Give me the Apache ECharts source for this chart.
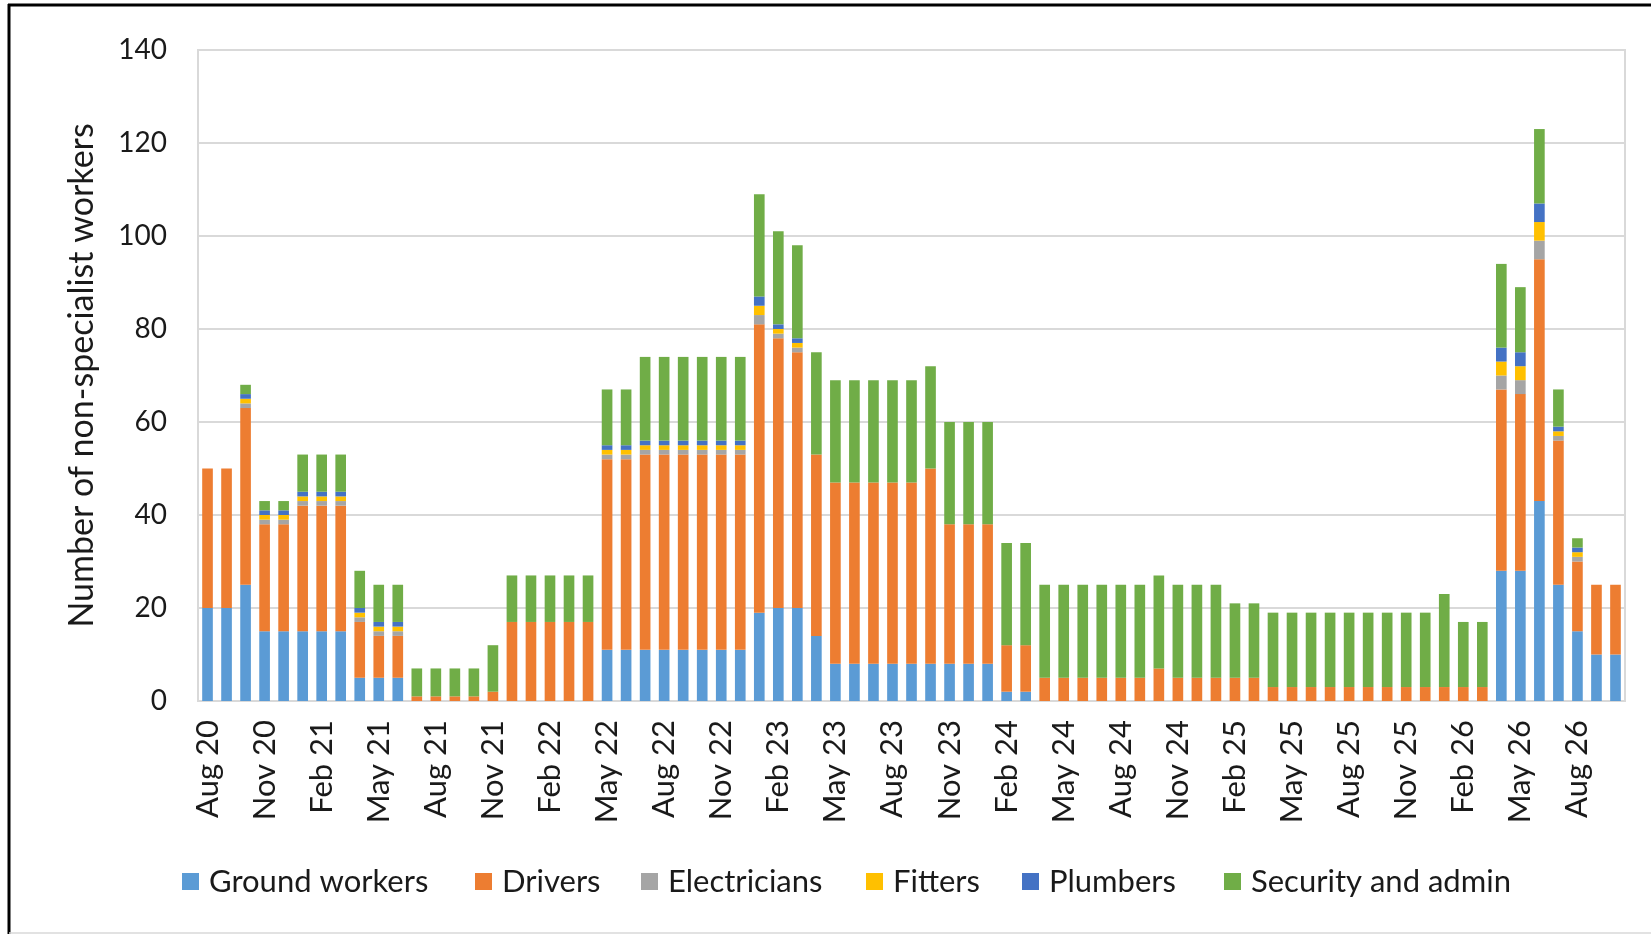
<!DOCTYPE html>
<html>
<head>
<meta charset="utf-8">
<script src="https://cdn.jsdelivr.net/npm/echarts@6/dist/echarts.min.js"></script>
<style>
  html, body { margin: 0; padding: 0; background: #ffffff; }
  #chart { width: 1651px; height: 934px; }
</style>
</head>
<body>
<div id="chart"></div>
<script>
// ---------- DATA ----------
const months = [
  'Aug 20','Sep 20','Oct 20','Nov 20','Dec 20','Jan 21','Feb 21','Mar 21','Apr 21','May 21','Jun 21','Jul 21',
  'Aug 21','Sep 21','Oct 21','Nov 21','Dec 21','Jan 22','Feb 22','Mar 22','Apr 22','May 22','Jun 22','Jul 22',
  'Aug 22','Sep 22','Oct 22','Nov 22','Dec 22','Jan 23','Feb 23','Mar 23','Apr 23','May 23','Jun 23','Jul 23',
  'Aug 23','Sep 23','Oct 23','Nov 23','Dec 23','Jan 24','Feb 24','Mar 24','Apr 24','May 24','Jun 24','Jul 24',
  'Aug 24','Sep 24','Oct 24','Nov 24','Dec 24','Jan 25','Feb 25','Mar 25','Apr 25','May 25','Jun 25','Jul 25',
  'Aug 25','Sep 25','Oct 25','Nov 25','Dec 25','Jan 26','Feb 26','Mar 26','Apr 26','May 26','Jun 26','Jul 26',
  'Aug 26','Sep 26','Oct 26'
];

const groundWorkers = [
  20,20,25,15,15,15,15,15,5,5,5,0,
  0,0,0,0,0,0,0,0,0,11,11,11,
  11,11,11,11,11,19,20,20,14,8,8,8,
  8,8,8,8,8,8,2,2,0,0,0,0,
  0,0,0,0,0,0,0,0,0,0,0,0,
  0,0,0,0,0,0,0,0,28,28,43,25,
  15,10,10
];

const drivers = [
  30,30,38,23,23,27,27,27,12,9,9,1,
  1,1,1,2,17,17,17,17,17,41,41,42,
  42,42,42,42,42,62,58,55,39,39,39,39,
  39,39,42,30,30,30,10,10,5,5,5,5,
  5,5,7,5,5,5,5,5,3,3,3,3,
  3,3,3,3,3,3,3,3,39,38,52,31,
  15,15,15
];

const electricians = [
  0,0,1,1,1,1,1,1,1,1,1,0,
  0,0,0,0,0,0,0,0,0,1,1,1,
  1,1,1,1,1,2,1,1,0,0,0,0,
  0,0,0,0,0,0,0,0,0,0,0,0,
  0,0,0,0,0,0,0,0,0,0,0,0,
  0,0,0,0,0,0,0,0,3,3,4,1,
  1,0,0
];

const fitters = [
  0,0,1,1,1,1,1,1,1,1,1,0,
  0,0,0,0,0,0,0,0,0,1,1,1,
  1,1,1,1,1,2,1,1,0,0,0,0,
  0,0,0,0,0,0,0,0,0,0,0,0,
  0,0,0,0,0,0,0,0,0,0,0,0,
  0,0,0,0,0,0,0,0,3,3,4,1,
  1,0,0
];

const plumbers = [
  0,0,1,1,1,1,1,1,1,1,1,0,
  0,0,0,0,0,0,0,0,0,1,1,1,
  1,1,1,1,1,2,1,1,0,0,0,0,
  0,0,0,0,0,0,0,0,0,0,0,0,
  0,0,0,0,0,0,0,0,0,0,0,0,
  0,0,0,0,0,0,0,0,3,3,4,1,
  1,0,0
];

const securityAdmin = [
  0,0,2,2,2,8,8,8,8,8,8,6,
  6,6,6,10,10,10,10,10,10,12,12,18,
  18,18,18,18,18,22,20,20,22,22,22,22,
  22,22,22,22,22,22,22,22,20,20,20,20,
  20,20,20,20,20,20,16,16,16,16,16,16,
  16,16,16,16,16,20,14,14,18,14,16,8,
  2,0,0
];

const yTicks = { min: 0, max: 140, interval: 20 };
const seriesNames = ['Ground workers','Drivers','Electricians','Fitters','Plumbers','Security and admin'];
const seriesData = [groundWorkers, drivers, electricians, fitters, plumbers, securityAdmin];
const seriesColors = ['#5B9BD5','#ED7D31','#A5A5A5','#FFC000','#4472C4','#70AD47'];

// ---------- CHART ----------
const FONT = 'Lato, "Open Sans", sans-serif';
const TXT = '#1a1a1a';
const chart = echarts.init(document.getElementById('chart'), null, { renderer: 'canvas' });

const legendLefts = [182, 475, 641, 866, 1022, 1224];

const option = {
  animation: false,
  backgroundColor: '#ffffff',
  textStyle: { fontFamily: FONT },
  grid: {
    left: 198, right: 26, top: 50, bottom: 233,
    show: true, borderColor: '#d9d9d9', borderWidth: 2,
    containLabel: false
  },
  legend: seriesNames.map((n, i) => ({
    data: [n],
    left: legendLefts[i],
    top: 866,
    padding: 0,
    itemWidth: 17,
    itemHeight: 17,
    icon: 'rect',
    textStyle: { fontFamily: FONT, fontSize: 31, color: TXT, padding: [0, 0, 0, 5] }
  })),
  xAxis: {
    type: 'category',
    data: months,
    axisLine: { show: true, lineStyle: { color: '#d9d9d9', width: 2 } },
    axisTick: { show: false },
    axisLabel: {
      interval: 2,
      rotate: 90,
      margin: 19,
      fontFamily: FONT,
      fontSize: 31,
      color: TXT
    }
  },
  yAxis: {
    type: 'value',
    min: yTicks.min,
    max: yTicks.max,
    interval: yTicks.interval,
    name: 'Number of non-specialist workers',
    nameLocation: 'middle',
    nameGap: 99,
    nameTextStyle: { fontFamily: FONT, fontSize: 34, color: TXT },
    axisLine: { show: false },
    axisTick: { show: false },
    splitLine: { lineStyle: { color: '#d9d9d9', width: 2 } },
    axisLabel: { margin: 31, fontFamily: FONT, fontSize: 28, color: TXT }
  },
  series: seriesNames.map((n, i) => ({
    name: n,
    type: 'bar',
    stack: 'total',
    data: seriesData[i],
    barCategoryGap: '44%',
    itemStyle: { color: seriesColors[i] },
    emphasis: { disabled: true }
  })),
  graphic: [
    { type: 'line', shape: { x1: 8, y1: 5, x2: 1651, y2: 5 }, style: { stroke: '#000', lineWidth: 3 }, z: 100 },
    { type: 'line', shape: { x1: 9, y1: 4, x2: 9, y2: 934 }, style: { stroke: '#000', lineWidth: 3 }, z: 100 },
    { type: 'line', shape: { x1: 9, y1: 933, x2: 1651, y2: 933 }, style: { stroke: '#d9d9d9', lineWidth: 1.5 }, z: 100 }
  ]
};

chart.setOption(option);
</script>
</body>
</html>
